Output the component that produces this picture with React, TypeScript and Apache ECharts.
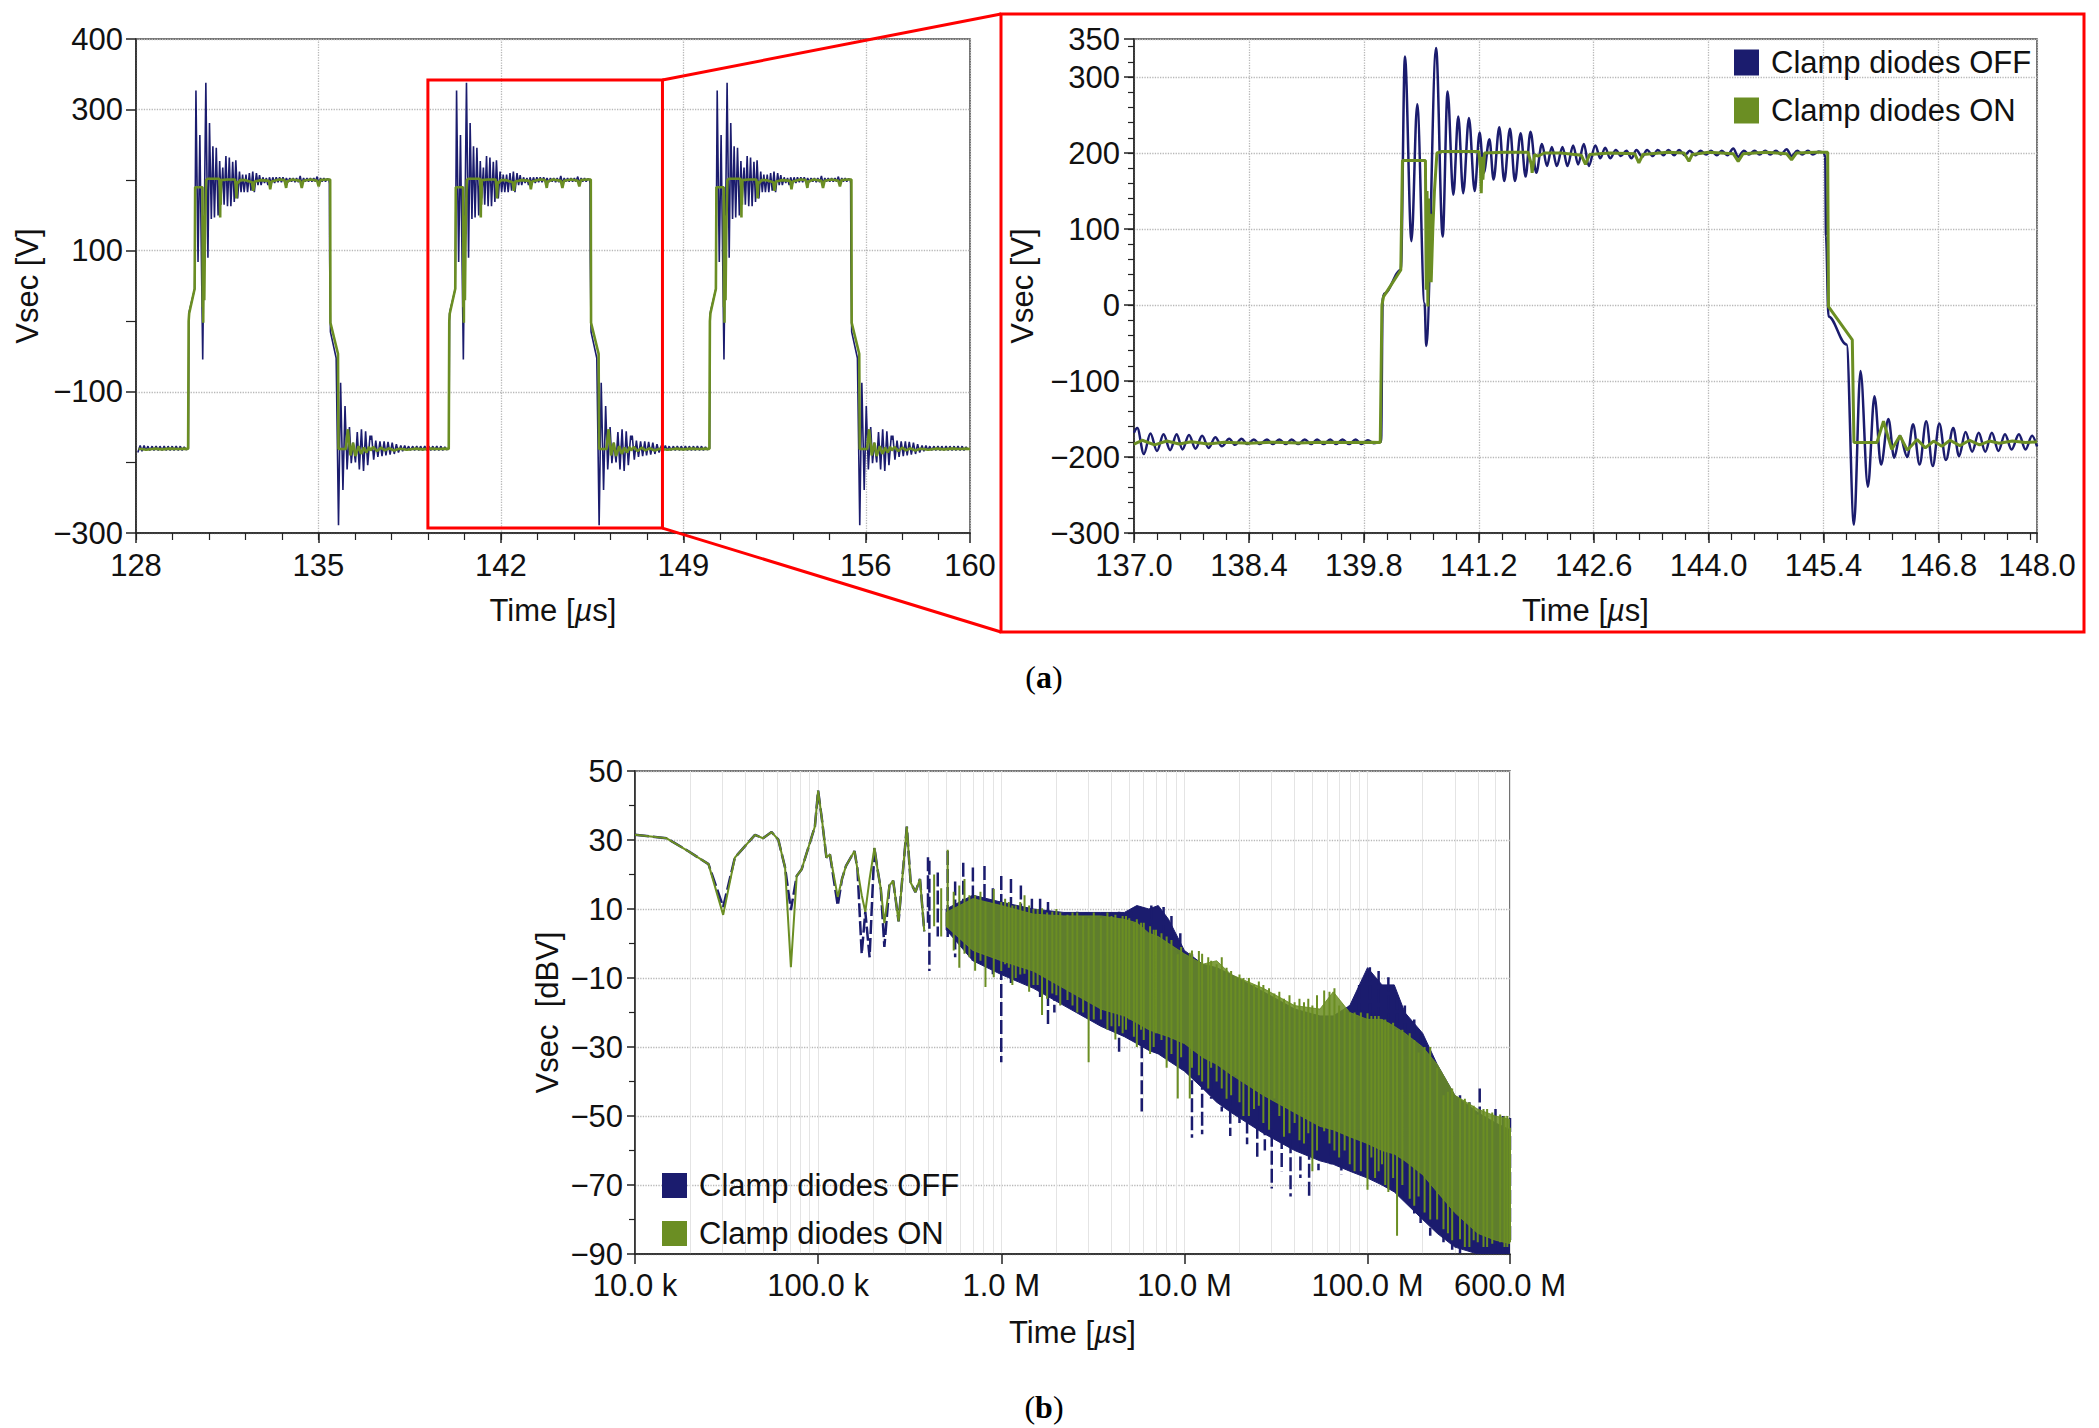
import React, { useEffect, useRef } from 'react';
import * as echarts from 'echarts';

const NAVY = '#1b1c6e';
const GREEN = '#6b8e23';
const FONT = '"Liberation Sans", Arial, sans-serif';

// ---------- (a) zoomed waveform, t [µs], Vsec [V] ----------
const zoomOff: [number, number][] = [
  [137.00,-168],[137.04,-162],[137.12,-196],[137.20,-169],[137.28,-192],[137.36,-170],[137.44,-191],[137.52,-170],
  [137.59,-190],[137.67,-171],[137.75,-189],[137.83,-172],[137.91,-188],[137.99,-174],[138.07,-186],[138.16,-176],
  [138.23,-184],[138.31,-176],[138.38,-183],[138.46,-177],[138.53,-183],[138.62,-177],[138.69,-183],[138.77,-177],
  [138.85,-183],[138.92,-177],[139.00,-183],[139.08,-177],[139.16,-183],[139.23,-177],[139.31,-183],[139.39,-177],
  [139.46,-183],[139.54,-177],[139.62,-183],[139.70,-177],[139.77,-183],[139.85,-178],[139.92,-182],
  [140.01,-180],[140.03,10],[140.05,15],[140.25,46],[140.30,327],[140.38,84],[140.45,264],[140.54,2],[140.56,-54],
  [140.68,338],[140.76,90],[140.82,281],[140.89,145],[140.95,248],[141.01,147],[141.08,246],[141.15,150],
  [141.21,227],[141.26,174],[141.33,218],[141.38,165],[141.45,234],[141.51,163],[141.58,232],[141.64,163],
  [141.71,226],[141.77,169],[141.83,228],[141.90,174],[141.97,212],[142.03,183],[142.09,208],[142.15,183],
  [142.22,208],[142.28,183],[142.35,210],[142.41,185],[142.48,212],[142.54,183],[142.62,210],[142.68,193],
  [142.74,207],[142.80,193],[142.87,204],[142.93,196],[143.00,203],[143.06,193],[143.12,204],[143.19,195],
  [143.25,204],[143.32,196],[143.38,204],[143.45,197],[143.51,204],[143.58,197],[143.64,204],[143.71,197],
  [143.77,203],[143.84,197],[143.90,203],[143.97,198],[144.03,203],[144.10,197],[144.16,203],[144.23,197],
  [144.30,206],[144.36,195],[144.43,203],[144.49,198],[144.56,203],[144.62,198],[144.69,203],[144.75,198],
  [144.82,203],[144.88,198],[144.95,205],[145.01,196],[145.08,203],[145.14,198],[145.21,203],[145.27,198],
  [145.34,202],[145.40,201],[145.42,195],[145.43,90],[145.46,-15],[145.68,-52],[145.77,-289],[145.85,-87],
  [145.94,-239],[146.02,-120],[146.10,-210],[146.19,-150],[146.26,-201],[146.33,-172],[146.42,-200],[146.49,-157],
  [146.57,-210],[146.65,-153],[146.73,-212],[146.81,-156],[146.89,-204],[146.98,-162],[147.05,-199],[147.13,-167],
  [147.21,-193],[147.29,-168],[147.37,-193],[147.45,-168],[147.53,-192],[147.61,-170],[147.69,-190],[147.78,-170],
  [147.86,-190],[147.94,-172],[148.00,-186],
];

const zoomOn: [number, number][] = [
  [137.00,-183],[137.10,-178],[137.25,-184],[137.40,-179],[137.55,-183],[137.70,-180],[137.90,-183],[138.10,-180.5],
  [138.40,-182],[138.70,-180.5],[139.00,-181.5],[139.30,-180.5],[139.60,-181],[139.90,-180.5],
  [140.00,-181],[140.02,0],[140.04,11],[140.25,46],[140.27,190],[140.55,190],[140.56,20],[140.57,150],[140.58,-2],
  [140.59,140],[140.60,60],[140.61,120],[140.62,30],[140.64,100],[140.66,150],[140.69,200],[140.75,202],[141.00,202],
  [141.20,202],[141.22,180],[141.23,147],[141.24,195],[141.25,165],[141.27,200],[141.50,201],[141.80,201],
  [141.84,185],[141.85,174],[141.88,198],[141.92,196],[142.00,200],[142.20,200],[142.45,197],[142.50,185],
  [142.55,198],[142.80,200],[143.10,199],[143.15,187],[143.20,198],[143.50,201],[143.70,200],[143.76,189],
  [143.80,198],[144.00,201],[144.30,199],[144.36,189],[144.42,199],[144.70,201],[144.95,199],[145.01,191],
  [145.07,200],[145.30,201],[145.45,201],[145.46,-2],[145.75,-46],[145.77,-181],[146.05,-181],[146.13,-153],
  [146.23,-190],[146.33,-172],[146.42,-191],[146.54,-177],[146.64,-188],[146.74,-179],[146.84,-186],[146.94,-178],
  [147.06,-185],[147.18,-178],[147.30,-184],[147.42,-179],[147.54,-182],[147.70,-179],[147.86,-181],[148.00,-180],
];

// the overview repeats the same switching period (10 µs) seen in the zoom
const periodShifts = [-10, 0, 10, 20];
const zoomBox = { t0: 139.2, t1: 148.2, vLow: -293, vHigh: 342 };

// axis ticks
const overviewXTicks = [128, 135, 142, 149, 156, 160];
const overviewYTicks = [-300, -100, 100, 300, 400];
const overviewYMinor = [-200, 0, 200];
const zoomXTicks = [137, 138.4, 139.8, 141.2, 142.6, 144, 145.4, 146.8, 148];
const specYTicks = [-90, -70, -50, -30, -10, 10, 30, 50];
const specYMinor = [-80, -60, -40, -20, 0, 20, 40];

// ---------- (b) spectrum, f [Hz], dBV ----------
const lfFreq = [1e4,1.49e4,1.95e4,2.52e4,3.03e4,3.51e4,4.52e4,5.0e4,5.57e4,6.06e4,6.6e4,7.1e4,7.64e4,8.13e4,9.6e4,1.0e5,
  1.05e5,1.11e5,1.16e5,1.28e5,1.35e5,1.42e5,1.58e5,1.64e5,1.73e5,1.81e5,1.91e5,2.03e5,2.11e5,2.2e5,2.3e5,2.45e5,2.57e5,
  2.75e5,3.05e5,3.2e5,3.4e5,3.6e5,3.8e5];
const lfOn = [31.5,30.5,26.8,23.0,8.3,24.9,31.5,30.5,32.3,30.1,22.0,-6.9,19.6,21.5,33.9,44.3,35.8,24.9,25.8,13.5,18.7,22.5,
  26.8,21.5,14,9.2,18.7,27.7,21.5,15.8,5.9,16.8,18.2,6.4,33.9,17.7,14.9,18.7,3.5];
const lfOff = [31.5,30.5,26.8,23.0,10.6,24.9,31.5,30.5,32.3,30.1,22.0,9.7,19.6,21.5,33.9,44.3,35.8,24.9,25.8,11.0,18.7,22.5,
  26.8,21.5,-3,9.2,-4,27.7,21.5,15.8,-1,16.8,18.2,6.4,33.9,17.7,14.9,18.7,3.5];

// spikes: [f, top, bottom]
const offSpikes: [number, number, number][] = [
  [3.98e5,25,6],[4.05e5,24,-8],[4.5e5,20.6,2],[5.1e5,26.8,0.7],[5.6e5,18,-4],[6.2e5,23.4,-1.2],[7.0e5,22,-5],
  [8.1e5,22.5,-3],[9.0e5,16,-9],[1.0e6,19.6,-34.4],[1.13e6,18.7,-11.7],[1.28e6,16.8,-7],[1.47e6,13,-12.6],
  [1.63e6,13,-15.5],[1.8e6,12,-24],[1.95e6,8.3,-20],[2.2e6,7.3,-16.4],[2.6e6,9.2,-18.3],[2.9e6,9,-20],[3.2e6,8.3,-14.5],
  [3.7e6,7.3,-22],[4.4e6,9.2,-31.6],[5.1e6,9.2,-24],[5.85e6,-3.1,-48.7],[6.6e6,11,-16.4],[7.7e6,10.6,-14.5],
  [8.5e6,8,-30],[9.5e6,3,-34],[1.1e7,-3.1,-56.3],[1.25e7,-7,-55.3],[1.4e7,-8,-45],[1.6e7,-10.7,-48.7],
  [1.78e7,-11.7,-55.8],[2.0e7,-12,-52],[2.2e7,-14.5,-58.2],[2.5e7,-16,-62],[2.75e7,-15,-60],[3.0e7,-18.3,-71],
  [3.4e7,-19,-66],[3.8e7,-20.2,-73.3],[4.3e7,-20,-68],[4.8e7,-22.1,-73.8],[5.4e7,-22.1,-65.7],[6.3e7,-21,-64],
  [7.2e7,-20,-67],[8.0e7,-18,-62],[9e7,-12,-60],[1.03e8,-6.9,-54.4],[1.15e8,-8,-60],[1.3e8,-9.8,-59],[1.45e8,-15,-70],
  [1.6e8,-18,-75],[1.8e8,-22,-79],[1.95e8,-25.9,-81],[2.2e8,-35.4,-84.7],[2.6e8,-41,-86.6],[2.9e8,-43,-90],
  [3.2e8,-44,-90],[3.6e8,-46,-88],[4.1e8,-42,-84.7],[5e8,-48,-90],[5.5e8,-50,-90],[6.0e8,-50.6,-86.6],
];
const onSpikesLow: [number, number, number][] = [
  [4.3e5,20,5],[4.7e5,16,2],[5.1e5,27.2,4.5],[5.5e5,15,-2],[5.9e5,16.8,-7],[6.3e5,18.7,-3],[6.7e5,14,-4],[7.2e5,14,-7.9],
  [7.7e5,15,-5],[8.2e5,12,-12.6],[9.1e5,15.8,-9.8],[1.0e6,12,-8],[1.05e6,13,-6],[1.1e6,12,-7],[1.15e6,11,-12],
  [1.2e6,11,-10],[1.27e6,12,-9],[1.34e6,14,-8.8],[1.42e6,11,-14],[1.5e6,10,-12],[1.58e6,10,-12],[1.67e6,10.2,-20.7],
  [1.78e6,9,-16],[1.9e6,9.2,-14.5],[2.0e6,10,-15],[2.1e6,9,-18],[2.3e6,8.3,-16.4],[2.45e6,9,-18],[2.6e6,9,-20],
  [2.8e6,8,-20],[3.0e6,7.3,-34.4],[3.2e6,9,-22],[3.5e6,7.3,-22],[3.8e6,9,-25],[4.0e6,8,-24],[4.2e6,8.3,-27.8],
  [4.4e6,7,-24],[4.6e6,8,-26],[4.8e6,8,-25],[5.0e6,7.3,-22],[5.3e6,6,-27],[5.5e6,7,-30],[5.8e6,6,-25],[6e6,6,-28],
  [6.5e6,5,-32],[6.8e6,4,-30],[7e6,4,-26],[7.5e6,3,-28],[8e6,2,-36],[8.5e6,1,-32],[9.2e6,-3.1,-44.9],[9.6e6,-1,-33],
];
const onSpikesHigh: [number, number, number][] = [
  [1.07e7,-2.7,-44.9],[1.1e7,-2,-36],[1.2e7,-2.2,-38.2],[1.25e7,-3,-40],[1.35e7,-4,-42],[1.4e7,-5,-36],[1.5e7,-6,-40],
  [1.6e7,-4,-42],[1.7e7,-7,-45],[1.8e7,-8,-44],[1.9e7,-9.8,-38.2],[2.0e7,-9,-46],[2.1e7,-10,-50],[2.25e7,-10,-50],
  [2.4e7,-12,-48],[2.55e7,-11,-47],[2.7e7,-12,-52],[2.9e7,-13,-54],[3.1e7,-14.5,-44.9],[3.3e7,-14,-50],[3.5e7,-16,-56],
  [3.75e7,-15,-55],[4e7,-17,-52],[4.25e7,-16,-57],[4.5e7,-17,-58],[4.75e7,-16,-55],[5e7,-18,-66],[5.3e7,-15,-60],
  [5.8e7,-13.6,-54.4],[6.2e7,-14,-58],[6.6e7,-13,-60],[7e7,-18,-62],[7.5e7,-19,-60],[8e7,-20,-64],[8.5e7,-20,-66],
  [9.2e7,-20,-66],[1.0e8,-20.2,-71.4],[1.05e8,-21,-62],[1.1e8,-21,-68],[1.15e8,-21,-66],[1.2e8,-22,-64],[1.25e8,-22,-70],
  [1.3e8,-23,-72],[1.38e8,-23,-68],[1.45e8,-25,-84.7],[1.55e8,-25,-70],[1.7e8,-26,-74],[1.8e8,-28,-76],[1.9e8,-31.6,-73.3],
  [2.05e8,-30,-78],[2.2e8,-30,-80],[2.4e8,-36,-80],[2.6e8,-44,-82.8],[2.75e8,-43,-84],[2.9e8,-42,-86],[3.2e8,-44.9,-85.7],
  [3.4e8,-45,-88],[3.6e8,-46,-88],[3.8e8,-47,-86],[4e8,-49.6,-86.6],[4.3e8,-48,-88],[4.5e8,-48,-88],[4.8e8,-49,-87],
  [5.3e8,-49.6,-86.6],[5.6e8,-50,-88],[5.8e8,-50,-88],[6e8,-53.4,-86.6],
];

// dense noise band envelopes
const bandF = [5e5,7e5,1e6,1.5e6,2.2e6,3.5e6,4.7e6,5.5e6,6.4e6,7.2e6,8.2e6,1e7,1.26e7,1.5e7,1.8e7,2.7e7,4e7,
  5.5e7,6.5e7,8e7,1e8,1.2e8,1.4e8,1.6e8,2e8,2.4e8,3e8,4e8,5e8,6e8];
const onUpper = [9,13,11,8.5,8,8,7,6,3,2,0,-3,-6,-5,-9,-13,-18,-19,-14,-20,-22,-22,-24,-26,-30,-35,-44,-48,-50,-51];
const onLower = [5,-2,-5,-8,-13,-19,-21,-23,-25,-26,-27,-29,-33,-35,-38,-44,-49,-53,-54,-56,-58,-60,-61,-63,-67,-72,-78,-84,-86,-87];
const offUpper = [10,14,12,10,9,9,9,11,10,11,7,-2,-6,-7,-9,-14,-19,-21,-21,-18,-7,-12,-12,-20,-26,-35,-44,-49,-52,-54];
const offLower = [4,-5,-9,-13,-18,-24,-27,-29,-31,-32,-34,-37,-42,-46,-49,-55,-60,-63,-64,-66,-68,-70,-72,-75,-80,-84,-88,-90,-90,-90];

// ---------- helpers ----------
function buildOverview(src: [number, number][]): [number, number][] {
  const split = 139.96;
  const tail = src.filter(([t]) => t < split);
  const head = src.filter(([t]) => t >= split && t < 147);
  const out: [number, number][] = [];
  for (const s of periodShifts) {
    for (const [t, v] of tail) { const tt = +(t + s).toFixed(3); if (tt >= 128 && tt <= 160) out.push([tt, v]); }
    for (const [t, v] of head) { const tt = +(t + s).toFixed(3); if (tt >= 128 && tt <= 160) out.push([tt, v]); }
  }
  return out;
}
function buildSpectrum(f: number[], v: number[], spikes: [number, number, number][]): any[] {
  const out: any[] = f.map((x, i) => [x, v[i]]);
  for (const [x, hi, lo] of spikes) { out.push('-'); out.push([x, hi]); out.push([x, lo]); }
  return out;
}
function bandSeries(upper: number[], lower: number[], color: string, opacity: number, z: number) {
  return {
    type: 'custom', xAxisIndex: 4, yAxisIndex: 4, silent: true, clip: true, z,
    data: [[1e6, -20]],
    renderItem: (params: any, api: any) => {
      const pts: number[][] = [];
      for (let i = 0; i < bandF.length; i++) pts.push(api.coord([bandF[i], upper[i]]));
      for (let i = bandF.length - 1; i >= 0; i--) pts.push(api.coord([bandF[i], lower[i]]));
      return { type: 'polygon', shape: { points: pts }, style: { fill: color, opacity, stroke: color, lineWidth: 1 } };
    },
  };
}

const txt = { fontFamily: FONT, fontSize: 31, color: '#111' };
const axLine = { show: true, onZero: false, lineStyle: { color: '#222', width: 1.5 } };
const dotted = { show: true, lineStyle: { type: 'dotted', color: '#b8b8b8', width: 1.3 } };
const noLine = { show: false };
const timeName = 'Time [{i|\u00b5}s]';
const nameStyle = { ...txt, rich: { i: { fontStyle: 'italic', fontFamily: FONT, fontSize: 31, color: '#111' } } };
const minus = (v: number) => String(v).replace('-', '\u2212');

function minorAxis(grid: number, min: number, max: number, ticks: number[], len: number) {
  return {
    gridIndex: grid, type: 'value', min, max,
    axisLine: { show: false, onZero: false },
    axisTick: { show: true, customValues: ticks, length: len, lineStyle: { color: '#222', width: 1.2 } },
    axisLabel: { show: false },
    splitLine: noLine,
  };
}

function buildOption() {
  const overviewMinorX: number[] = [];
  for (let k = 0; 128 + 1.4 * k <= 160.001; k++) overviewMinorX.push(+(128 + 1.4 * k).toFixed(2));
  const zoomMinorX: number[] = [];
  for (let k = 0; 137 + 0.28 * k <= 148.001; k++) zoomMinorX.push(+(137 + 0.28 * k).toFixed(2));
  const zoomMinorY: number[] = [];
  for (let v = -300; v <= 350; v += 20) zoomMinorY.push(v);
  const logMinor: number[] = [];
  for (const d of [1e4, 1e5, 1e6, 1e7, 1e8]) for (let k = 1; k <= 9; k++) if (k * d <= 6e8) logMinor.push(Math.log10(k * d));

  const specFmt = (v: number) => (v >= 1e6 ? (v / 1e6).toFixed(1) + ' M' : (v / 1e3).toFixed(1) + ' k');
  const legendText = (h: number) => ({ ...txt, padding: [0, 0, 0, 7], lineHeight: h });

  return {
    animation: false,
    backgroundColor: '#ffffff',
    grid: [
      { left: 136, top: 39, width: 834, height: 494, show: true, borderColor: '#444', borderWidth: 1.5 },
      { left: 1134, top: 39, width: 903, height: 494, show: true, borderColor: '#444', borderWidth: 1.5 },
      { left: 635, top: 771, width: 875, height: 483, show: true, borderColor: '#444', borderWidth: 1.5 },
    ],
    xAxis: [
      {
        gridIndex: 0, type: 'value', min: 128, max: 160, position: 'bottom',
        axisLine: axLine,
        axisTick: { show: true, customValues: overviewXTicks, length: 10, lineStyle: { color: '#222', width: 1.5 } },
        axisLabel: { customValues: overviewXTicks, margin: 17, ...txt },
        splitLine: dotted,
        name: timeName, nameLocation: 'middle', nameGap: 62, nameTextStyle: nameStyle,
      },
      { ...minorAxis(0, 128, 160, overviewMinorX, 7), position: 'bottom' },
      {
        gridIndex: 1, type: 'value', min: 137, max: 148, position: 'bottom',
        axisLine: axLine,
        axisTick: { show: true, customValues: zoomXTicks, length: 10, lineStyle: { color: '#222', width: 1.5 } },
        axisLabel: { customValues: zoomXTicks, margin: 17, ...txt, formatter: (v: number) => v.toFixed(1) },
        splitLine: dotted,
        name: timeName, nameLocation: 'middle', nameGap: 62, nameTextStyle: nameStyle,
      },
      { ...minorAxis(1, 137, 148, zoomMinorX, 7), position: 'bottom' },
      {
        gridIndex: 2, type: 'log', logBase: 10, min: 1e4, max: 6e8, position: 'bottom',
        axisLine: axLine,
        axisTick: { show: true, length: 10, lineStyle: { color: '#222', width: 1.5 } },
        axisLabel: { margin: 17, ...txt, lineHeight: 28, formatter: specFmt },
        splitLine: { show: true, lineStyle: { color: '#d6d6d6', width: 1 } },
        name: timeName, nameLocation: 'middle', nameGap: 63, nameTextStyle: nameStyle,
      },
      {
        gridIndex: 2, type: 'value', min: 4, max: Math.log10(6e8), position: 'bottom',
        axisLine: { show: false, onZero: false }, axisLabel: { show: false },
        axisTick: { show: false, customValues: logMinor },
        splitLine: { show: true, lineStyle: { color: '#e4e4e4', width: 1 } },
      },
    ],
    yAxis: [
      {
        gridIndex: 0, type: 'value', min: -300, max: 400, position: 'left',
        axisLine: axLine,
        axisTick: { show: true, customValues: overviewYTicks, length: 10, lineStyle: { color: '#222', width: 1.5 } },
        axisLabel: { customValues: overviewYTicks, margin: 13, ...txt, formatter: minus },
        splitLine: dotted,
        name: 'Vsec [V]', nameLocation: 'middle', nameGap: 93, nameTextStyle: txt,
      },
      { ...minorAxis(0, -300, 400, overviewYMinor, 10), position: 'left' },
      {
        gridIndex: 1, type: 'value', min: -300, max: 350, interval: 100, position: 'left',
        axisLine: axLine,
        axisTick: { show: true, length: 10, lineStyle: { color: '#222', width: 1.5 } },
        axisLabel: { margin: 14, ...txt, formatter: minus },
        splitLine: dotted,
        name: 'Vsec [V]', nameLocation: 'middle', nameGap: 96, nameTextStyle: txt,
      },
      { ...minorAxis(1, -300, 350, zoomMinorY, 6), position: 'left' },
      {
        gridIndex: 2, type: 'value', min: -90, max: 50, position: 'left',
        axisLine: axLine,
        axisTick: { show: true, customValues: specYTicks, length: 8, lineStyle: { color: '#222', width: 1.5 } },
        axisLabel: { customValues: specYTicks, margin: 12, ...txt, lineHeight: 26, formatter: minus },
        splitLine: dotted,
        name: 'Vsec  [dBV]', nameLocation: 'middle', nameGap: 72, nameTextStyle: txt,
      },
      { ...minorAxis(2, -90, 50, specYMinor, 6), position: 'left' },
    ],
    legend: [
      {
        left: 1734, top: 47, orient: 'vertical', icon: 'rect', itemWidth: 25, itemHeight: 26, itemGap: 17, padding: 0,
        selectedMode: false, data: ['Clamp diodes OFF', 'Clamp diodes ON'], textStyle: legendText(26),
      },
      {
        left: 662, top: 1170, orient: 'vertical', icon: 'rect', itemWidth: 25, itemHeight: 25, itemGap: 17, padding: 0,
        selectedMode: false, data: ['Clamp diodes OFF', 'Clamp diodes ON'], textStyle: legendText(25),
      },
    ],
    series: [
      {
        name: 'Clamp diodes OFF', type: 'line', xAxisIndex: 0, yAxisIndex: 0, data: buildOverview(zoomOff),
        symbol: 'none', color: NAVY, lineStyle: { width: 1.6, color: NAVY },
      },
      {
        name: 'Clamp diodes ON', type: 'line', xAxisIndex: 0, yAxisIndex: 0, data: buildOverview(zoomOn),
        symbol: 'none', color: GREEN, lineStyle: { width: 2.6, color: GREEN },
        markArea: {
          silent: true, z: 10, label: { show: false },
          itemStyle: { color: 'rgba(0,0,0,0)', borderColor: '#ff0000', borderWidth: 3 },
          data: [[{ coord: [zoomBox.t0, zoomBox.vHigh] }, { coord: [zoomBox.t1, zoomBox.vLow] }]],
        },
      },
      {
        name: 'Clamp diodes OFF', type: 'line', xAxisIndex: 2, yAxisIndex: 2, data: zoomOff,
        symbol: 'none', smooth: 0.35, smoothMonotone: 'x', color: NAVY, lineStyle: { width: 2.5, color: NAVY },
      },
      {
        name: 'Clamp diodes ON', type: 'line', xAxisIndex: 2, yAxisIndex: 2, data: zoomOn,
        symbol: 'none', color: GREEN, lineStyle: { width: 3, color: GREEN },
      },
      bandSeries(offUpper, offLower, NAVY, 1, 2),
      {
        name: 'Clamp diodes OFF', type: 'line', xAxisIndex: 4, yAxisIndex: 4, z: 3,
        data: buildSpectrum(lfFreq, lfOff, offSpikes),
        symbol: 'none', connectNulls: false, color: NAVY, lineStyle: { width: 2.5, color: NAVY, type: [14, 4] },
      },
      bandSeries(onUpper, onLower, GREEN, 0.86, 4),
      {
        name: 'Clamp diodes ON', type: 'line', xAxisIndex: 4, yAxisIndex: 4, z: 5,
        data: buildSpectrum(lfFreq, lfOn, onSpikesLow.concat(onSpikesHigh)),
        symbol: 'none', connectNulls: false, color: GREEN, lineStyle: { width: 2, color: GREEN },
      },
    ],
  };
}

export default function App() {
  const ref = useRef<HTMLDivElement>(null);
  useEffect(() => {
    const chart = echarts.init(ref.current as HTMLDivElement, null, { renderer: 'svg' });
    chart.setOption(buildOption() as any);
    const pTop = chart.convertToPixel({ xAxisIndex: 0, yAxisIndex: 0 } as any, [zoomBox.t1, zoomBox.vHigh]) as number[];
    const pBot = chart.convertToPixel({ xAxisIndex: 0, yAxisIndex: 0 } as any, [zoomBox.t1, zoomBox.vLow]) as number[];
    const big = { x: 1001, y: 14, w: 1083, h: 618 };
    const serif = '"Liberation Serif", "DejaVu Serif", serif';
    chart.setOption({
      graphic: [
        { type: 'rect', silent: true, z: 100, shape: { x: big.x, y: big.y, width: big.w, height: big.h },
          style: { fill: 'none', stroke: '#ff0000', lineWidth: 3 } },
        { type: 'line', silent: true, z: 100, shape: { x1: pTop[0], y1: pTop[1], x2: big.x, y2: big.y },
          style: { stroke: '#ff0000', lineWidth: 3 } },
        { type: 'line', silent: true, z: 100, shape: { x1: pBot[0], y1: pBot[1], x2: big.x, y2: big.y + big.h },
          style: { stroke: '#ff0000', lineWidth: 3 } },
        { type: 'text', silent: true, x: 1044, y: 677,
          style: { text: '({b|a})', fill: '#000', font: `32px ${serif}`, align: 'center', verticalAlign: 'middle',
            rich: { b: { fontWeight: 'bold', fontSize: 32, fontFamily: serif, fill: '#000' } } } },
        { type: 'text', silent: true, x: 1044, y: 1407,
          style: { text: '({b|b})', fill: '#000', font: `32px ${serif}`, align: 'center', verticalAlign: 'middle',
            rich: { b: { fontWeight: 'bold', fontSize: 32, fontFamily: serif, fill: '#000' } } } },
      ],
    });
    return () => chart.dispose();
  }, []);
  return (
    <div
      ref={ref}
      style={{ position: 'absolute', left: 0, top: 0, width: 2099, height: 1428, background: '#ffffff' }}
    />
  );
}
